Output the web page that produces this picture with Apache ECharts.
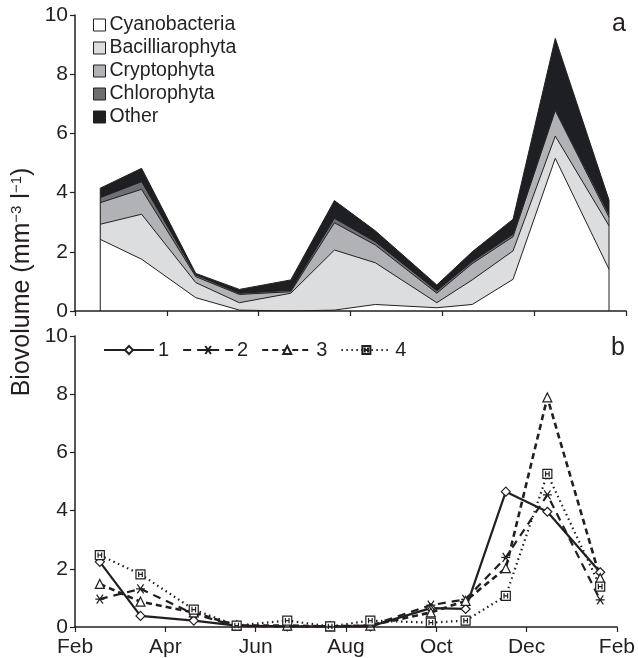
<!DOCTYPE html>
<html>
<head>
<meta charset="utf-8">
<script src="https://cdn.jsdelivr.net/npm/echarts@6/dist/echarts.min.js"></script>
<style>
  html, body { margin: 0; padding: 0; background: #fff; }
  #chart { width: 638px; height: 658px; }
</style>
</head>
<body>
<div id="chart"></div>
<script>
// sampling dates, in months after 1 Feb
const sampleMonth = [0.55, 1.45, 2.63, 3.58, 4.70, 5.65, 6.54, 7.88, 8.65, 9.54, 10.46, 11.63];
const monthLabels = ["Feb", "Apr", "Jun", "Aug", "Oct", "Dec", "Feb"];

// panel a: biovolume by group (stacked)
const groupNames = ["Cyanobacteria", "Bacilliarophyta", "Cryptophyta", "Chlorophyta", "Other"];
const cyano  = [2.42, 1.75, 0.45, 0.03, 0.00, 0.03, 0.22, 0.11, 0.22, 1.07, 5.16, 1.41];
const bacil  = [0.51, 1.52, 0.51, 0.25, 0.60, 2.03, 1.41, 0.17, 0.83, 0.96, 0.75, 1.47];
const crypto = [0.73, 0.84, 0.20, 0.28, 0.05, 0.92, 0.60, 0.32, 0.55, 0.48, 0.86, 0.29];
const chloro = [0.17, 0.26, 0.06, 0.04, 0.05, 0.15, 0.11, 0.08, 0.07, 0.08, 0.04, 0.10];
const other  = [0.32, 0.45, 0.05, 0.13, 0.35, 0.60, 0.37, 0.20, 0.33, 0.51, 2.40, 0.48];

// panel b: total biovolume per site
const siteNames = ["1", "2", "3", "4"];
const site1 = [2.24, 0.38, 0.22, 0.05, 0.02, 0.02, 0.02, 0.65, 0.62, 4.65, 3.96, 1.88];
const site2 = [0.96, 1.31, 0.45, 0.03, 0.02, 0.02, 0.05, 0.75, 0.95, 2.39, 4.54, 0.93];
const site3 = [1.48, 0.87, 0.50, 0.05, 0.05, 0.02, 0.05, 0.50, 0.90, 2.02, 7.89, 1.68];
const site4 = [2.47, 1.81, 0.60, 0.05, 0.22, 0.02, 0.22, 0.15, 0.22, 1.07, 5.26, 1.39];

const ink = "#231f20";
const font = "'Liberation Sans', Arial, sans-serif";

const chart = echarts.init(document.getElementById("chart"));

const pairs = (vals) => vals.map((v, i) => [sampleMonth[i], v]);

const groups = [cyano, bacil, crypto, chloro, other];
const fills = ["#ffffff", "#dcdddf", "#b1b2b5", "#6e6f72", "#1e1f22"];

// running totals; each layer is filled down to zero and the lower layers are drawn over it
let running = sampleMonth.map(() => 0);
const cumulative = groups.map((vals) => {
  running = running.map((s, i) => s + vals[i]);
  return running.slice();
});

const areaSeries = cumulative.map((vals, k) => ({
  name: groupNames[k],
  type: "line",
  xAxisIndex: 0,
  yAxisIndex: 0,
  symbol: "none",
  data: pairs(vals),
  itemStyle: { color: fills[k], borderColor: ink, borderWidth: 1 },
  lineStyle: { color: ink, width: 1 },
  areaStyle: { color: fills[k], opacity: 1 },
  z: 2 + (groups.length - k) * 0.01,
}));

// vertical edges of the stacked area at the first and last sample
const totals = cumulative[cumulative.length - 1];
const last = sampleMonth.length - 1;
[0, last].forEach((i) => {
  areaSeries.push({
    type: "line",
    xAxisIndex: 0,
    yAxisIndex: 0,
    symbol: "none",
    silent: true,
    data: [[sampleMonth[i], 0], [sampleMonth[i], totals[i]]],
    lineStyle: { color: ink, width: 1 },
    z: 2.5,
  });
});

const siteData = [site1, site2, site3, site4];
const siteSymbols = [
  "diamond",
  "path://M0,5L10,5M1.5,1.5L8.5,8.5M8.5,1.5L1.5,8.5",
  "triangle",
  "path://M0,0L10,0L10,10L0,10Z M3,2L3,8M7,2L7,8M3,5L7,5",
];
const siteDash = ["solid", [8, 6], [6, 4], [1.5, 3.5]];
const siteWidth = [2.2, 2.2, 2.6, 2.2];

const lineSeries = siteData.map((vals, k) => ({
  name: siteNames[k],
  type: "line",
  xAxisIndex: 1,
  yAxisIndex: 1,
  data: pairs(vals),
  symbol: siteSymbols[k],
  symbolSize: 9,
  showAllSymbol: true,
  itemStyle: { color: "#fff", borderColor: ink, borderWidth: 1.2 },
  lineStyle: { color: ink, width: siteWidth[k], type: siteDash[k] },
  z: 3,
}));

const xAxisBase = {
  type: "value",
  min: 0,
  max: 12,
  interval: 2,
  splitLine: { show: false },
  axisLine: { onZero: false, lineStyle: { color: ink, width: 1.5 } },
  axisTick: { inside: false, length: 5, lineStyle: { color: ink, width: 1.2 } },
  z: 5,
};

const yAxisBase = {
  type: "value",
  min: 0,
  max: 10,
  interval: 2,
  splitLine: { show: false },
  axisLine: { show: true, lineStyle: { color: ink, width: 1.5 } },
  axisTick: { show: true, inside: false, length: 5, lineStyle: { color: ink, width: 1.2 } },
  axisLabel: { color: ink, fontSize: 21, fontFamily: font, margin: 7 },
  z: 5,
};

const option = {
  animation: false,
  backgroundColor: "#fff",
  textStyle: { fontFamily: font },
  grid: [
    { left: 75, top: 15, width: 551, height: 296 },
    { left: 75, top: 336, width: 551, height: 291 },
  ],
  xAxis: [
    Object.assign({}, xAxisBase, { gridIndex: 0, axisLabel: { show: false } }),
    Object.assign({}, xAxisBase, {
      gridIndex: 1,
      axisLabel: {
        color: ink,
        fontSize: 21,
        fontFamily: font,
        margin: 10,
        formatter: (v) => monthLabels[Math.round(v / 2)],
      },
    }),
  ],
  yAxis: [
    Object.assign({}, yAxisBase, { gridIndex: 0 }),
    Object.assign({}, yAxisBase, { gridIndex: 1 }),
  ],
  legend: [
    {
      data: groupNames,
      orient: "vertical",
      left: 93,
      top: 15,
      padding: 0,
      itemGap: 3,
      itemWidth: 12,
      itemHeight: 12,
      icon: "rect",
      z: 10,
      itemStyle: { borderColor: ink, borderWidth: 1 },
      textStyle: { color: ink, fontSize: 19.5, fontFamily: font, padding: [0, 0, 0, -1] },
    },
    {
      data: siteNames,
      orient: "horizontal",
      left: 103,
      top: 340,
      padding: 0,
      itemGap: 13,
      itemWidth: 50,
      itemHeight: 10,
      z: 10,
      textStyle: { color: ink, fontSize: 20, fontFamily: font, padding: [0, 0, 0, -1] },
    },
  ],
  graphic: [
    {
      type: "text",
      x: 22,
      y: 282,
      rotation: Math.PI / 2,
      style: {
        text: "{a|Biovolume (mm}{s|−3}{a| l}{s|−1}{a|)}",
        align: "center",
        verticalAlign: "middle",
        fill: ink,
        rich: {
          a: { fontSize: 25, fontFamily: font, color: ink },
          s: { fontSize: 15, fontFamily: font, color: ink, verticalAlign: "top", padding: [0, 0, 9, 0] },
        },
      },
    },
    { type: "text", x: 612, y: 12, style: { text: "a", font: "25px " + font, fill: ink } },
    { type: "text", x: 611, y: 336, style: { text: "b", font: "25px " + font, fill: ink } },
  ],
  series: areaSeries.concat(lineSeries),
};

chart.setOption(option);
</script>
</body>
</html>
